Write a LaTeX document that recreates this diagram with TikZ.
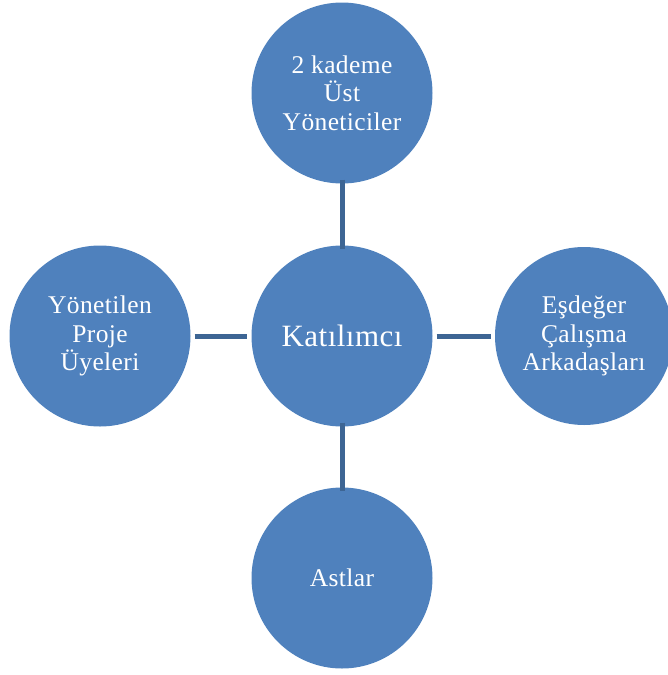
\documentclass[tikz,border=0pt]{standalone}
\usepackage{fontspec}
\setmainfont{Liberation Serif}
\begin{document}
\begin{tikzpicture}[x=1pt,y=-1pt,
  bub/.style={circle,fill=bubblue,minimum size=181pt,inner sep=0pt,align=center,text=white,
    font=\fontsize{25.5}{28.5}\selectfont\addfontfeature{LetterSpace=1.5}},
  link/.style={draw=linkblue,line width=5pt}]
\definecolor{bubblue}{HTML}{4F81BD}
\definecolor{linkblue}{HTML}{3D6594}
\useasboundingbox (0,0) rectangle (667,675);
\node[bub] (c) at (342,336) {\fontsize{31}{36}\selectfont Katılımcı};
\node[bub] (t) at (342,93) {2 kademe\\Üst\\Yöneticiler};
\node[bub] (l) at (100,336) {Yönetilen\\Proje\\Üyeleri};
\node[bub,minimum size=178pt] (r) at (584,336) {Eşdeğer\\Çalışma\\Arkadaşları};
\node[bub] (b) at (342,578) {Astlar};
\draw[link] ([yshift=4pt]t.south) -- ([yshift=-4pt]c.north);
\draw[link] ([yshift=4pt]c.south) -- ([yshift=-4pt]b.north);
\draw[link] ([xshift=4pt]l.east) -- ([xshift=-4pt]c.west);
\draw[link] ([xshift=4pt]c.east) -- ([xshift=-4pt]r.west);
\end{tikzpicture}
\end{document}
